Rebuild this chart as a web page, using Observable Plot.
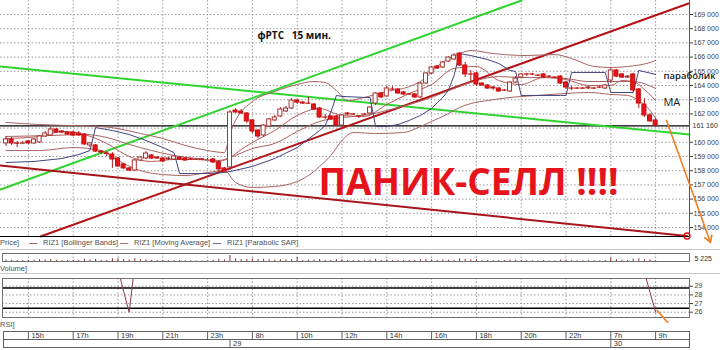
<!DOCTYPE html>
<html>
<head>
<meta charset="utf-8">
<script src="https://cdn.jsdelivr.net/npm/d3@7"></script>
<script src="https://cdn.jsdelivr.net/npm/@observablehq/plot@0.6"></script>
<style>
  html, body { margin: 0; padding: 0; background: #fff; }
  #chart { position: relative; width: 720px; height: 350px; overflow: hidden; background: #fff;
           font-family: "Liberation Sans", Arial, sans-serif; }
  #chart .panel { position: absolute; left: 0; }
  #chart svg { display: block; overflow: hidden; background: transparent; }
  .lbl { position: absolute; font-size: 7.5px; line-height: 8px; color: #505050; white-space: nowrap; }
  .sep { position: absolute; left: 0; width: 720px; height: 1px; background: #c8c8c8; }
  .sw { position: absolute; width: 8px; height: 1px; }
</style>
</head>
<body>
<div id="chart"></div>
<script>
// ---- RIZ1, 15-minute bars: 28th 14:00 .. 30th 09:00 ----
const open = [159920,160200,159920,159900,160060,159920,159990,160410,160480,160900,
  160760,160690,160690,160620,160550,159780,159780,159350,159210,159140,
  158860,158440,158160,158010,158720,158860,159070,158930,158860,158790,
  158790,158930,158860,158800,158790,158800,158790,158790,158580,158160,
  158230,162240,162170,162030,161540,160830,160480,161110,161540,161820,
  162170,162380,162940,162800,162730,162660,162380,161750,161820,161820,
  161180,162030,161960,161820,161960,162030,162730,163440,163230,163720,
  163720,163510,163370,163370,163160,164140,164850,165340,165270,165690,
  165830,166250,165410,164780,164850,164140,164000,163860,163790,163650,
  163580,164210,164560,164780,164780,164700,164780,164630,164560,164630,
  164210,163790,163790,163790,163790,163790,163860,163790,164350,165060,
  164780,164560,164780,163720,162660,161890,161540];
const high = [160410,160340,160060,160060,160130,160270,160480,160760,161040,160970,
  160830,160760,160760,160760,160620,159990,159850,159420,159350,159280,
  158930,158510,158230,158790,159000,159350,159140,159000,158930,158930,
  159070,159000,158930,158860,158860,158860,158860,158860,158720,158230,
  162240,162380,162310,162100,161610,160900,161250,161680,161890,162450,
  162520,163080,163010,162870,163160,162730,162450,161960,161890,161890,
  161960,162100,162030,161890,162030,162520,163510,163510,163930,163930,
  163790,163580,163440,163440,164210,164920,165340,165410,165690,166040,
  166250,166320,165620,165060,164920,164210,164070,163930,163860,163720,
  164280,164630,164850,164850,164850,164780,164850,164700,164630,164700,
  164280,163930,163860,163860,163930,163860,163930,164070,165200,165130,
  164850,164700,164850,163790,163080,162030,161680];
const low = [159700,159780,159630,159850,159850,159850,159920,160340,160410,160620,
  160620,160480,160410,160410,159780,159630,159280,159140,159000,158160,
  158230,158090,157940,157940,158650,158790,158790,158790,158580,158720,
  158720,158720,158650,158720,158720,158720,158720,158510,157870,157870,
  158010,162030,161960,161320,160620,160270,160340,161040,161470,161750,
  162100,162310,162660,162660,162660,162240,161680,161610,161540,161110,
  161110,161890,161890,161680,161890,161960,162590,163080,163160,163650,
  163370,163300,163300,163080,163080,164070,164780,165130,165200,165620,
  165760,165340,164560,164280,163930,163930,163720,163650,163510,163580,
  163510,164140,164490,164630,164700,164630,164490,164560,164490,164070,
  163720,163650,163720,163720,163720,163720,163790,163720,164140,164560,
  164490,164490,163510,162380,161750,161400,161110];
const close = [160200,159920,159900,159920,159920,160200,160410,160620,160900,160690,
  160690,160550,160480,160480,159850,159920,159350,159280,159170,158790,
  158300,158160,158010,158720,158930,159210,158860,158860,158650,158860,
  159000,158790,158720,158780,158800,158780,158790,158580,158090,157940,
  162100,162100,162030,161470,160760,160410,161180,161610,161750,162310,
  162380,162940,162800,162730,162720,162310,161750,161740,161610,161180,
  161890,161960,161950,161810,161950,162450,163440,163160,163790,163710,
  163440,163370,163360,163160,164140,164850,165270,165200,165620,165970,
  166110,165410,164780,164770,164070,164000,163790,163790,163580,163640,
  164210,164490,164780,164770,164770,164690,164560,164620,164550,164140,
  163860,163780,163780,163780,163860,163780,163850,164000,165060,164630,
  164560,164630,163650,162730,161890,161470,161160];
const volume = [12000,9000,7000,6000,8000,9000,14000,11000,15000,9000,
  7000,8000,9000,7000,18000,11000,16000,9000,8000,21000,
  19000,15000,12000,22000,14000,13000,8000,7000,9000,6000,
  8000,7000,6000,5000,4000,4000,5000,9000,17000,12000,
  45000,20000,14000,16000,19000,15000,17000,12000,10000,14000,
  11000,13000,30000,8000,10000,11000,15000,9000,8000,13000,
  14000,8000,6000,7000,6000,10000,16000,9000,12000,8000,
  9000,7000,6000,8000,14000,15000,12000,9000,11000,10000,
  9000,19000,16000,12000,14000,9000,8000,7000,8000,6000,
  11000,9000,8000,6000,5000,5000,7000,5000,5000,11000,
  10000,6000,5000,5000,6000,5000,4000,8000,25000,14000,
  9000,8000,18000,20000,16000,12000,5225];

// Bollinger Bands (upper / middle / lower), read at sample bars
const bbUpperBars = [0,6,12,17,20,24,28,32,36,39,40,41,44,48,52,55,57,59,61,64,68,72,75,77,79,81,83,87,93,98,101,105,108,111,115,116];
const bbUpper = [161400,161250,161180,161110,160970,160620,160270,159780,159420,159280,
  160620,161540,162870,163580,164070,164280,164210,163650,162940,163160,
  163580,163920,164560,165340,165900,166250,166460,166250,166110,166180,
  165900,165340,165270,165340,165620,165760];
const bbMidBars = [0,8,14,18,22,26,30,34,38,40,44,48,52,56,60,64,68,72,76,80,84,88,92,96,100,104,108,112,116];
const bbMid = [160410,160480,160550,160340,159850,159420,159070,158860,158720,158930,
  159560,159920,160760,161470,161750,161890,162240,162660,163160,163790,
  164350,164630,164560,164560,164490,164280,164280,164280,163790];
const bbLowerBars = [0,6,12,17,20,24,28,32,36,39,41,44,48,52,54,56,58,60,62,66,71,74,76,79,81,83,86,90,95,100,104,108,111,113,115,116];
const bbLower = [159420,159420,159630,159420,158720,158010,157730,157660,157870,158010,
  157170,156820,156890,157240,157660,158300,159070,160130,160690,160620,
  160690,161110,161470,162020,162450,162730,162940,163160,163300,163440,
  163510,163370,163300,162940,162240,161680];

// Moving Average
const maBars = [0,6,10,14,18,22,26,30,34,38,40,42,44,48,52,56,60,64,68,72,76,80,84,88,92,96,100,104,108,110,112,114,116];
const ma = [160270,160410,160760,160550,159920,159000,158650,158790,158790,158650,
  158930,159490,159990,160830,161890,162380,161890,161820,162660,163440,
  164070,165200,165340,164350,164070,164560,164420,164000,164000,164350,
  164280,163720,162940];

// Parabolic SAR
const sarBars = [0,5,10,13,15,16,19,22,25,28,30,31,33,36,39,40,44,48,52,56,
  57,58,59,60,64,65,66,68,70,72,74,76,78,79,80,81,83,86,88,90,
  91,92,99,100,101,107,108,112,113,116];
const sar = [158580,158650,158860,159140,159420,161040,160830,160550,160130,159630,
  159280,157800,157800,157800,157870,157940,158300,158860,159630,160830,
  161180,162100,163300,163230,163160,163160,161110,161110,161250,161540,
  161890,162380,163160,163650,164700,166250,166110,165830,165550,165060,
  164990,163300,163300,163300,164920,164920,163510,163510,165060,164780];

// RSI (only the stretches inside the 25.4–29.9 window are visible)
const rsiBars = [18,20,21,22,23,25, 112,114,115,116];
const rsi = [40,31.0,28.4,26.0,31.5,40, 40,30.6,28.3,26.0];
const rsiLevels = [28.8, 26.45];
const rsiTicks = [26, 27, 28, 29];

// Trend lines drawn on the price panel (bar, price)
const greenUpBars = [-0.98, 92.05], greenUp = [156680, 169986];
const greenDownBars = [-0.98, 122.05], greenDown = [165340, 160550];
const redUpBars = [6.16, 121.87], redUp = [153367, 169775];
const redDownBars = [-0.98, 121.6], redDown = [158367, 153400];
const lastPrice = 161160;

// Axis ticks and time labels
const priceGrid = d3.range(154000, 170000, 1000);
const priceTicks = priceGrid.filter(p => p !== 161000);   // the last-price box sits here
const hourLabels = ["15h","17h","19h","21h","23h","8h","10h","12h","14h","16h","18h","20h","22h","7h","9h"];
const hourBars = [4,12,20,28,36,44,52,60,68,76,84,92,100,108,116];
const dayLabels = ["29", "30"];
const dayBars = [40, 108];

// ---- scales shared by all panels ----
const xDomain = [-0.98, 122.05];
const xRange = [0, 689];
const yDomain = [153367, 169986];
const SMALL = '"Liberation Sans", Arial, sans-serif';
const SANS = '"Open Sans", "DejaVu Sans", sans-serif';
const fmtNum = d => d3.format(",")(d).replace(/,/g, " ");
const GRID = {stroke: "#9a9a9a", strokeDasharray: "1.5,2", strokeWidth: 1};
const BB_COLOR = "#a86464", MA_COLOR = "#b85a5a", SAR_COLOR = "#43437f";

const candles = open.map((o, i) => ({i, o, h: high[i], l: low[i], c: close[i], v: volume[i]}));
const pts = (bars, vals) => bars.map((b, k) => ({b, v: vals[k]}));
const baseStyle = {fontFamily: SMALL, fontSize: "7px", color: "#404040", background: "transparent", overflow: "hidden"};

const chart = document.getElementById("chart");
function place(node, top) {
  const d = document.createElement("div");
  d.className = "panel";
  d.style.top = top + "px";
  d.appendChild(node);
  chart.appendChild(d);
  return node;
}
function fitText(svg, aria, width) {
  d3.select(svg).selectAll(`g[aria-label="${aria}"] text`)
    .attr("textLength", width).attr("lengthAdjust", "spacingAndGlyphs");
}
// white box with a thin border behind a value label on the right axis
function boxLabel(svg, aria, stroke) {
  d3.select(svg).selectAll(`g[aria-label="${aria}"] text`).each(function() {
    const b = this.getBBox();
    d3.select(this.parentNode).insert("rect", () => this)
      .attr("transform", this.getAttribute("transform"))
      .attr("x", b.x - 1.5).attr("y", b.y - 0.5)
      .attr("width", b.width + 3).attr("height", b.height + 1)
      .attr("fill", "#fff").attr("stroke", stroke);
  });
}

// ---- price panel ----
const main = Plot.plot({
  width: 720, height: 250,
  marginTop: 0, marginBottom: 14, marginLeft: 0, marginRight: 31,
  style: baseStyle,
  x: {domain: xDomain, range: xRange, axis: null},
  y: {domain: yDomain, range: [236, 0], axis: "right", ticks: priceTicks, tickFormat: fmtNum,
      tickSize: 3, tickPadding: 1, label: null},
  marks: [
    Plot.ruleY(priceGrid, GRID),
    Plot.ruleX(hourBars, GRID),
    Plot.ruleY([lastPrice], {stroke: "#000", strokeWidth: 1.3}),
    Plot.line(pts(greenUpBars, greenUp), {x: "b", y: "v", stroke: "#2fd42f", strokeWidth: 2}),
    Plot.line(pts(greenDownBars, greenDown), {x: "b", y: "v", stroke: "#2fd42f", strokeWidth: 2}),
    Plot.line(pts(redUpBars, redUp), {x: "b", y: "v", stroke: "#b31217", strokeWidth: 2}),
    Plot.line(pts(redDownBars, redDown), {x: "b", y: "v", stroke: "#a8141a", strokeWidth: 2}),
    Plot.line(pts(bbUpperBars, bbUpper), {x: "b", y: "v", stroke: BB_COLOR, strokeWidth: 1, curve: "monotone-x"}),
    Plot.line(pts(bbMidBars, bbMid), {x: "b", y: "v", stroke: BB_COLOR, strokeWidth: 1, curve: "monotone-x"}),
    Plot.line(pts(bbLowerBars, bbLower), {x: "b", y: "v", stroke: BB_COLOR, strokeWidth: 1, curve: "monotone-x"}),
    Plot.line(pts(maBars, ma), {x: "b", y: "v", stroke: MA_COLOR, strokeWidth: 1, curve: "monotone-x"}),
    Plot.line(pts(sarBars, sar), {x: "b", y: "v", stroke: SAR_COLOR, strokeWidth: 1}),
    Plot.ruleX(candles, {x: "i", y1: "l", y2: "h", stroke: "#9c2020"}),
    Plot.rect(candles, {
      x1: d => d.i - 0.36, x2: d => d.i + 0.36, y1: "o", y2: "c",
      fill: d => d.c >= d.o ? "#fff" : "#e8121a",
      stroke: d => d.c >= d.o ? "#a83232" : "#c41010"
    }),
    Plot.ruleY([yDomain[0]], {stroke: "#000", strokeWidth: 1.2}),
    Plot.ruleX([xDomain[1]], {stroke: "#555"}),
    Plot.dot([{b: redDownBars[1], v: redDown[1]}], {x: "b", y: "v", r: 3, stroke: "#e01010", strokeWidth: 1.5, fill: "none"}),
    Plot.text([lastPrice], {x: () => xDomain[1], y: d => d, text: fmtNum, textAnchor: "start", dx: 3,
      fill: "#333", ariaLabel: "last-price"}),
    Plot.text(["фРТС\u00a0\u00a0\u00a015 мин."], {x: () => 44.9, y: () => 167520, text: d => d, textAnchor: "start",
      fontFamily: SANS, fontSize: 10, fontWeight: 700, fill: "#111", ariaLabel: "title"}),
    Plot.text(["параболик"], {x: () => 117.4, y: () => 164705, text: d => d, textAnchor: "start",
      fontFamily: SANS, fontSize: 9.5, fontWeight: 600, fill: "#1a1a1a"}),
    Plot.text(["МА"], {x: () => 117.4, y: () => 162800, text: d => d, textAnchor: "start",
      fontFamily: SANS, fontSize: 11, fontWeight: 400, fill: "#1a1a1a"}),
    Plot.text(["ПАНИК-СЕЛЛ !!!!"], {x: () => 82.6, y: () => 157110, text: d => d,
      fontFamily: SANS, fontSize: 37, fontWeight: 700, fill: "#e5141c", ariaLabel: "panic"}),
    Plot.arrow([{x1: 117.95, y1: 161540, x2: 125.8, y2: 152950}], {
      x1: "x1", y1: "y1", x2: "x2", y2: "y2", stroke: "#ef7d22", strokeWidth: 1.6, headLength: 7})
  ]
});
place(main, 0);
fitText(main, "panic", 274);
fitText(main, "title", 68);
boxLabel(main, "last-price", "#a05050");

// ---- legend row ----
const legend = [
  {t: "Price]", x: 0},
  {sw: BB_COLOR, x: 29}, {t: "RIZ1 [Bollinger Bands]", x: 43},
  {sw: "#c07070", x: 120}, {t: "RIZ1 [Moving Average]", x: 134},
  {sw: "#6a6aa0", x: 213}, {t: "RIZ1 [Parabolic SAR]", x: 227}
];
for (const e of legend) {
  const d = document.createElement("div");
  if (e.t) { d.className = "lbl"; d.textContent = e.t; d.style.top = "239px"; }
  else { d.className = "sw"; d.style.background = e.sw; d.style.top = "243px"; }
  d.style.left = e.x + "px";
  chart.appendChild(d);
}
for (const y of [249, 273]) {
  const s = document.createElement("div"); s.className = "sep"; s.style.top = y + "px"; chart.appendChild(s);
}
for (const [t, y] of [["Volume]", 265], ["RSI]", 321]]) {
  const d = document.createElement("div"); d.className = "lbl"; d.textContent = t;
  d.style.top = y + "px"; d.style.left = "0px"; chart.appendChild(d);
}

// ---- volume panel ----
const vol = Plot.plot({
  width: 720, height: 10, marginTop: 1, marginBottom: 1, marginLeft: 2, marginRight: 31,
  style: baseStyle,
  x: {domain: xDomain, range: xRange, axis: null},
  y: {domain: [0, 60000], range: [9, 1], axis: null},
  marks: [
    Plot.ruleX(hourBars, GRID),
    Plot.ruleX(candles, {x: "i", y1: 0, y2: "v", stroke: "#8c3030"}),
    Plot.frame({stroke: "#707070"}),
    Plot.text([volume[volume.length - 1]], {frameAnchor: "right", text: fmtNum, textAnchor: "start",
      dx: 5, dy: 1, fill: "#333", ariaLabel: "last-volume"})
  ]
});
place(vol, 252);
boxLabel(vol, "last-volume", "#a05050");

// ---- RSI panel ----
const rsiPlot = Plot.plot({
  width: 720, height: 45, marginTop: 0, marginBottom: 6, marginLeft: 2, marginRight: 31,
  style: baseStyle,
  x: {domain: xDomain, range: xRange, axis: null},
  y: {domain: [25.39, 29.89], axis: "right", ticks: rsiTicks, tickFormat: d3.format("d"),
      tickSize: 3, tickPadding: 2, label: null},
  marks: [
    Plot.ruleY(rsiTicks, GRID),
    Plot.ruleX(hourBars, GRID),
    Plot.ruleY(rsiLevels, {stroke: "#000", strokeWidth: 1.4}),
    Plot.line(pts(rsiBars, rsi), {x: "b", y: "v", stroke: "#8c3a4a", strokeWidth: 1}),
    Plot.frame({stroke: "#707070"}),
    Plot.line([{b: 116.3, v: 26.2}, {b: 118.3, v: 24.7}], {x: "b", y: "v", stroke: "#ef7d22", strokeWidth: 1.6})
  ]
});
place(rsiPlot, 278);

// ---- time axis ----
const timeAxis = Plot.plot({
  width: 720, height: 18, marginTop: 1, marginBottom: 1, marginLeft: 3, marginRight: 31,
  style: {...baseStyle, fontSize: "7.5px"},
  x: {domain: xDomain, range: xRange, axis: null},
  y: {domain: [0, 2], range: [1, 17], axis: null},
  marks: [
    Plot.frame({stroke: "#606060"}),
    Plot.ruleY([1], {stroke: "#606060"}),
    Plot.ruleX(hourBars, {y1: 0, y2: 1, stroke: "#606060"}),
    Plot.ruleX(dayBars, {y1: 1, y2: 2, stroke: "#606060"}),
    Plot.text(hourLabels, {x: (d, i) => hourBars[i], y: () => 0.5, text: d => d, textAnchor: "start", dx: 3, fill: "#333"}),
    Plot.text(dayLabels, {x: (d, i) => dayBars[i], y: () => 1.5, text: d => d, textAnchor: "start", dx: 3, fill: "#333"})
  ]
});
place(timeAxis, 330);
</script>
</body>
</html>
